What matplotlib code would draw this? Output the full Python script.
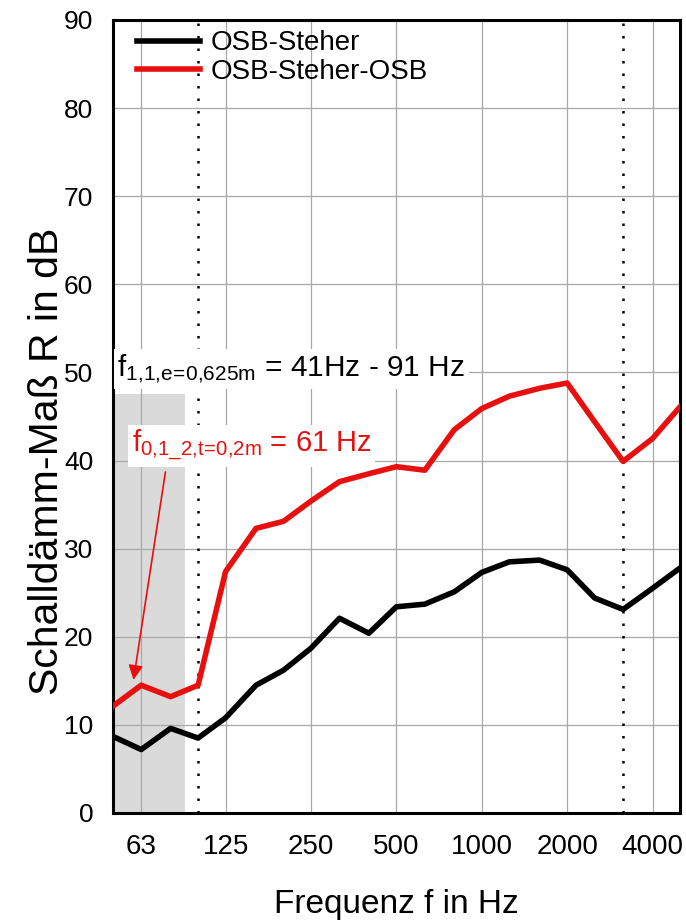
import matplotlib
matplotlib.use("Agg")
import matplotlib.pyplot as plt

# Terzband-Mittenfrequenzen in Hz
freq = [50, 63, 80, 100, 125, 160, 200, 250, 315, 400, 500, 630, 800,
        1000, 1250, 1600, 2000, 2500, 3150, 4000, 5000]

# Schalldämm-Maß R in dB
r_osb_steher = [8.7, 7.2, 9.6, 8.5, 10.8, 14.5, 16.2, 18.7, 22.1, 20.4, 23.4,
                23.7, 25.1, 27.3, 28.5, 28.7, 27.6, 24.4, 23.1, 25.5, 27.8]
r_osb_steher_osb = [12.1, 14.5, 13.2, 14.5, 27.4, 32.3, 33.1, 35.4, 37.6, 38.5, 39.3,
                    38.9, 43.5, 45.9, 47.3, 48.2, 48.8, 44.4, 39.9, 42.5, 46.1]

tick_freq = [63, 125, 250, 500, 1000, 2000, 4000]
tick_labels = ["63", "125", "250", "500", "1000", "2000", "4000"]
marker_freq = [100, 3150]          # gepunktete Linien
band_f11 = [50, 90]                # grau hinterlegter Bereich
band_top = 47.6
labels = ["OSB-Steher", "OSB-Steher-OSB"]

plt.rcParams["font.family"] = ["Liberation Sans", "DejaVu Sans"]
plt.rcParams["mathtext.fontset"] = "custom"
plt.rcParams["mathtext.rm"] = "Liberation Sans"
plt.rcParams["mathtext.it"] = "Liberation Sans:italic"
plt.rcParams["mathtext.bf"] = "Liberation Sans:bold"

red = "#e8100f"

fig = plt.figure(figsize=(6.86, 9.21), dpi=100)
ax = fig.add_axes([0.1643, 0.1173, 0.8270, 0.8610])

ax.set_xscale("log")
ax.set_xlim(50, 5000)
ax.set_ylim(0, 90)

# grauer Bereich + gepunktete Linien
ax.fill_between(band_f11, 0, band_top, color="#dadada", lw=0, zorder=0.2)
for f in marker_freq:
    ax.axvline(f, color="black", lw=1.8, linestyle=(0, (1, 4)), zorder=1)

line1, = ax.plot(freq, r_osb_steher, color="black", lw=4, zorder=3)
line2, = ax.plot(freq, r_osb_steher_osb, color=red, lw=4, zorder=3)

ax.set_xticks(tick_freq)
ax.set_xticklabels(tick_labels)
ax.xaxis.set_minor_locator(matplotlib.ticker.NullLocator())
ax.set_yticks(range(0, 91, 10))
ax.tick_params(axis="both", length=0, labelsize=19)
ax.tick_params(axis="x", pad=15, labelsize=20)
ax.tick_params(axis="y", pad=14)

ax.set_axisbelow(True)
ax.grid(True, color="#a8a8a8", lw=0.9)
for s in ax.spines.values():
    s.set_linewidth(2.2)

ax.set_xlabel("Frequenz f in Hz", fontsize=24, va="top")
ax.xaxis.set_label_coords(0.5, -0.096)
ax.set_ylabel("Schalldämm-Maß R in dB", fontsize=29.5)
ax.yaxis.set_label_coords(-0.082, 0.444)

leg = ax.legend([line1, line2], labels, loc="upper left", frameon=False,
                fontsize=20, handlelength=2.27, handletextpad=0.36,
                labelspacing=0.09, borderpad=0, borderaxespad=0,
                bbox_to_anchor=(0.043, 0.987))

ax.text(0.008, 0.551, r"f$_{\mathrm{1{,}1{,}e\!=\!0{,}625m}}$ = 41Hz - 91 Hz",
        transform=ax.transAxes, fontsize=21.5, color="black", va="baseline",
        ha="left", zorder=4,
        bbox=dict(boxstyle="square,pad=0.12", fc="white", ec="none"))
ax.text(0.034, 0.455, r"f$_{\mathrm{0{,}1\_2{,}t\!=\!0{,}2m}}$ = 61 Hz",
        transform=ax.transAxes, fontsize=21, color=red, va="baseline",
        ha="left", zorder=4,
        bbox=dict(boxstyle="square,pad=0.12", fc="white", ec="none"))

ax.annotate("", xy=(59.2, 15.1), xytext=(76.7, 38.7),
            arrowprops=dict(arrowstyle="-|>", color=red, lw=1.2,
                            mutation_scale=22, shrinkA=0, shrinkB=0),
            zorder=5)

fig.savefig("out.png", dpi=100)
